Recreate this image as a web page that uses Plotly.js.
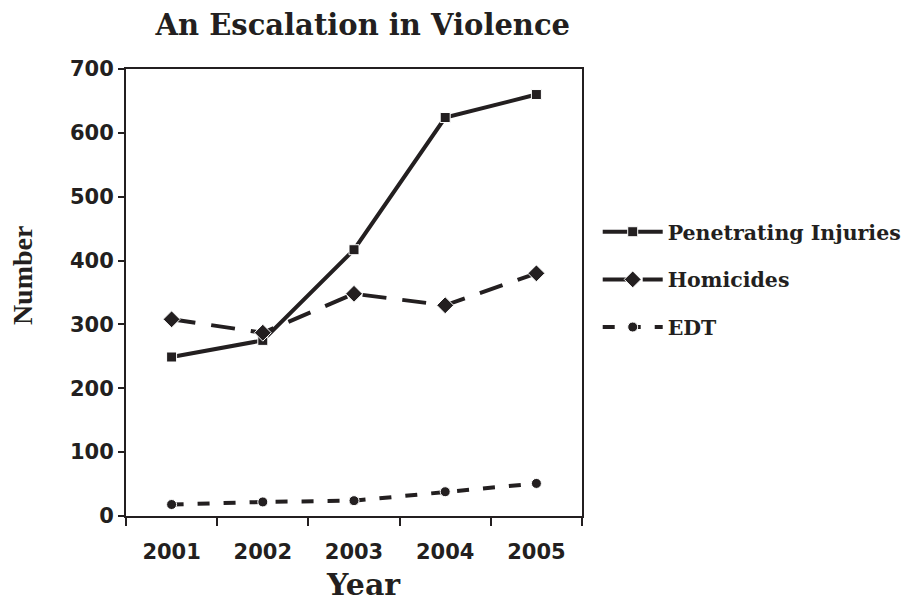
<!DOCTYPE html>
<html>
<head>
<meta charset="utf-8">
<script src="https://cdn.plot.ly/plotly-3.0.1.min.js"></script>
<style>html,body{margin:0;padding:0;background:#fff;}#chart{width:907px;height:602px;}</style>
</head>
<body>
<div id="chart"></div>
<script>
const years = ['2001', '2002', '2003', '2004', '2005'];
const penetratingInjuries = [249, 275, 417, 624, 660];
const homicides = [308, 287, 348, 330, 380];
const edt = [18, 22, 24, 38, 51];
const yTicks = [0, 100, 200, 300, 400, 500, 600, 700];

const ink = '#231f20';
const serif = 'DejaVu Serif, serif';
const sans = 'DejaVu Sans, sans-serif';

const traces = [
  {x: years, y: penetratingInjuries, name: 'Penetrating Injuries', legendgroup: 'a',
   mode: 'lines+markers', line: {color: ink, width: 4, dash: 'solid'},
   marker: {symbol: 'square', size: 10, color: ink, line: {color: '#fff', width: 1}}},
  {x: years, y: homicides, name: 'Homicides', legendgroup: 'b',
   mode: 'lines+markers', line: {color: ink, width: 4, dash: '24px,16px'},
   marker: {symbol: 'diamond', size: 13, color: ink, line: {color: '#fff', width: 1}}},
  {x: years, y: edt, name: 'EDT', legendgroup: 'c',
   mode: 'lines+markers', line: {color: ink, width: 4, dash: '12px,14px'},
   marker: {symbol: 'circle', size: 10, color: ink, line: {color: '#fff', width: 1}}}
];

const layout = {
  width: 907, height: 602,
  margin: {l: 126, r: 325, t: 69, b: 86},
  paper_bgcolor: '#fff', plot_bgcolor: '#fff',
  title: {text: 'An Escalation in Violence', x: 0.4, xanchor: 'center', y: 0.958, yanchor: 'middle',
          font: {family: serif, size: 29, weight: 'bold', color: ink}},
  xaxis: {type: 'category', range: [-0.5, 4.5], tickson: 'boundaries',
          ticks: 'outside', ticklen: 8, tickwidth: 2, tickcolor: ink,
          showline: true, linewidth: 2, linecolor: ink, mirror: true,
          showgrid: false, zeroline: false, ticklabelstandoff: 16,
          tickfont: {family: sans, size: 21, weight: 'bold', color: ink}},
  yaxis: {range: [0, 700], tickvals: yTicks, ticktext: yTicks.map(String),
          ticks: 'outside', ticklen: 6, tickwidth: 2, tickcolor: ink,
          showline: true, linewidth: 2, linecolor: ink, mirror: true,
          showgrid: false, zeroline: false,
          tickfont: {family: sans, size: 21, weight: 'bold', color: ink}},
  annotations: [
    {text: 'Year', xref: 'paper', yref: 'paper', x: 0.52, y: -0.197, xanchor: 'center', yanchor: 'bottom',
     showarrow: false, font: {family: serif, size: 30, weight: 'bold', color: ink}},
    {text: 'Number', xref: 'paper', yref: 'paper', x: -0.228, y: 0.539, xanchor: 'center', yanchor: 'middle',
     textangle: -90, showarrow: false,
     font: {family: 'Liberation Serif, Times New Roman, serif', size: 28, weight: 'bold', color: ink}}
  ],
  showlegend: true,
  legend: {xref: 'container', yref: 'container', x: 0.659, xanchor: 'left', y: 0.648, yanchor: 'top',
           traceorder: 'grouped', tracegroupgap: 18, itemwidth: 60,
           font: {family: serif, size: 20.5, weight: 'bold', color: ink},
           bgcolor: 'rgba(0,0,0,0)'}
};

Plotly.newPlot('chart', traces, layout, {displayModeBar: false, staticPlot: true});
</script>
</body>
</html>
